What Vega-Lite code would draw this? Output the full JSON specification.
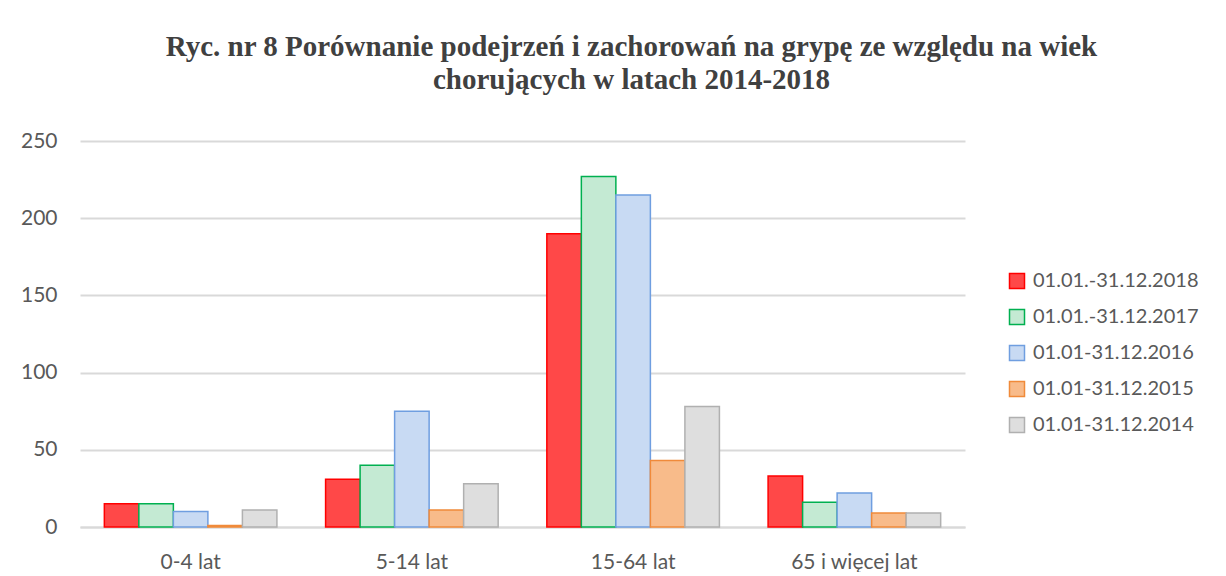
{
  "$schema": "https://vega.github.io/schema/vega-lite/v6.json",
  "width": 885,
  "height": 386,
  "padding": {"left": 20, "top": 33, "right": 0, "bottom": 0},
  "background": "white",
  "title": {
    "text": ["Ryc. nr 8 Porównanie podejrzeń i zachorowań na grypę ze względu na wiek", "chorujących w latach 2014-2018"],
    "font": "Liberation Serif",
    "fontSize": 29,
    "fontWeight": "bold",
    "color": "#404040",
    "lineHeight": 33,
    "anchor": "middle",
    "dx": 109,
    "offset": 35
  },
  "data": {
    "values": [
      {"grupa": "0-4 lat", "okres": "01.01.-31.12.2018", "wartosc": 15},
      {"grupa": "0-4 lat", "okres": "01.01.-31.12.2017", "wartosc": 15},
      {"grupa": "0-4 lat", "okres": "01.01-31.12.2016", "wartosc": 10},
      {"grupa": "0-4 lat", "okres": "01.01-31.12.2015", "wartosc": 1},
      {"grupa": "0-4 lat", "okres": "01.01-31.12.2014", "wartosc": 11},
      {"grupa": "5-14 lat", "okres": "01.01.-31.12.2018", "wartosc": 31},
      {"grupa": "5-14 lat", "okres": "01.01.-31.12.2017", "wartosc": 40},
      {"grupa": "5-14 lat", "okres": "01.01-31.12.2016", "wartosc": 75},
      {"grupa": "5-14 lat", "okres": "01.01-31.12.2015", "wartosc": 11},
      {"grupa": "5-14 lat", "okres": "01.01-31.12.2014", "wartosc": 28},
      {"grupa": "15-64 lat", "okres": "01.01.-31.12.2018", "wartosc": 190},
      {"grupa": "15-64 lat", "okres": "01.01.-31.12.2017", "wartosc": 227},
      {"grupa": "15-64 lat", "okres": "01.01-31.12.2016", "wartosc": 215},
      {"grupa": "15-64 lat", "okres": "01.01-31.12.2015", "wartosc": 43},
      {"grupa": "15-64 lat", "okres": "01.01-31.12.2014", "wartosc": 78},
      {"grupa": "65 i więcej lat", "okres": "01.01.-31.12.2018", "wartosc": 33},
      {"grupa": "65 i więcej lat", "okres": "01.01.-31.12.2017", "wartosc": 16},
      {"grupa": "65 i więcej lat", "okres": "01.01-31.12.2016", "wartosc": 22},
      {"grupa": "65 i więcej lat", "okres": "01.01-31.12.2015", "wartosc": 9},
      {"grupa": "65 i więcej lat", "okres": "01.01-31.12.2014", "wartosc": 9}
    ]
  },
  "mark": {"type": "bar", "strokeWidth": 1.5},
  "encoding": {
    "x": {
      "field": "grupa",
      "type": "nominal",
      "sort": ["0-4 lat", "5-14 lat", "15-64 lat", "65 i więcej lat"],
      "scale": {"paddingInner": 0.22, "paddingOuter": 0.11},
      "axis": {
        "title": null,
        "labelAngle": 0,
        "ticks": false,
        "domain": true,
        "domainColor": "#d9d9d9",
        "domainWidth": 2,
        "labelPadding": 24,
        "labelFont": "Lato",
        "labelFontSize": 21,
        "labelColor": "#595959"
      }
    },
    "xOffset": {
      "field": "okres",
      "type": "nominal",
      "sort": ["01.01.-31.12.2018", "01.01.-31.12.2017", "01.01-31.12.2016", "01.01-31.12.2015", "01.01-31.12.2014"]
    },
    "y": {
      "field": "wartosc",
      "type": "quantitative",
      "scale": {"domain": [0, 250]},
      "axis": {
        "title": null,
        "values": [0, 50, 100, 150, 200, 250],
        "ticks": false,
        "domain": false,
        "gridColor": "#d9d9d9",
        "gridWidth": 2,
        "labelPadding": 23,
        "labelFont": "Lato",
        "labelFontSize": 21,
        "labelColor": "#595959"
      }
    },
    "fill": {
      "field": "okres",
      "type": "nominal",
      "sort": ["01.01.-31.12.2018", "01.01.-31.12.2017", "01.01-31.12.2016", "01.01-31.12.2015", "01.01-31.12.2014"],
      "scale": {"range": ["#ff4848", "#c4ead3", "#c8daf3", "#f8bb8a", "#dedede"]},
      "legend": {
        "title": null,
        "orient": "none",
        "legendX": 927,
        "legendY": 130,
        "symbolType": "square",
        "symbolSize": 225,
        "symbolStrokeWidth": 1.5,
        "rowPadding": 14,
        "labelOffset": 6,
        "labelLimit": 0,
        "labelFont": "Lato",
        "labelFontSize": 20,
        "labelColor": "#595959",
        "encode": {
          "symbols": {
            "update": {
              "stroke": {"scale": "stroke", "field": "value"}
            }
          }
        }
      }
    },
    "stroke": {
      "field": "okres",
      "type": "nominal",
      "sort": ["01.01.-31.12.2018", "01.01.-31.12.2017", "01.01-31.12.2016", "01.01-31.12.2015", "01.01-31.12.2014"],
      "scale": {"range": ["#ff0000", "#00b050", "#6f9ee0", "#f08a3a", "#b0b0b0"]},
      "legend": null
    }
  },
  "config": {
    "view": {"stroke": null}
  }
}
